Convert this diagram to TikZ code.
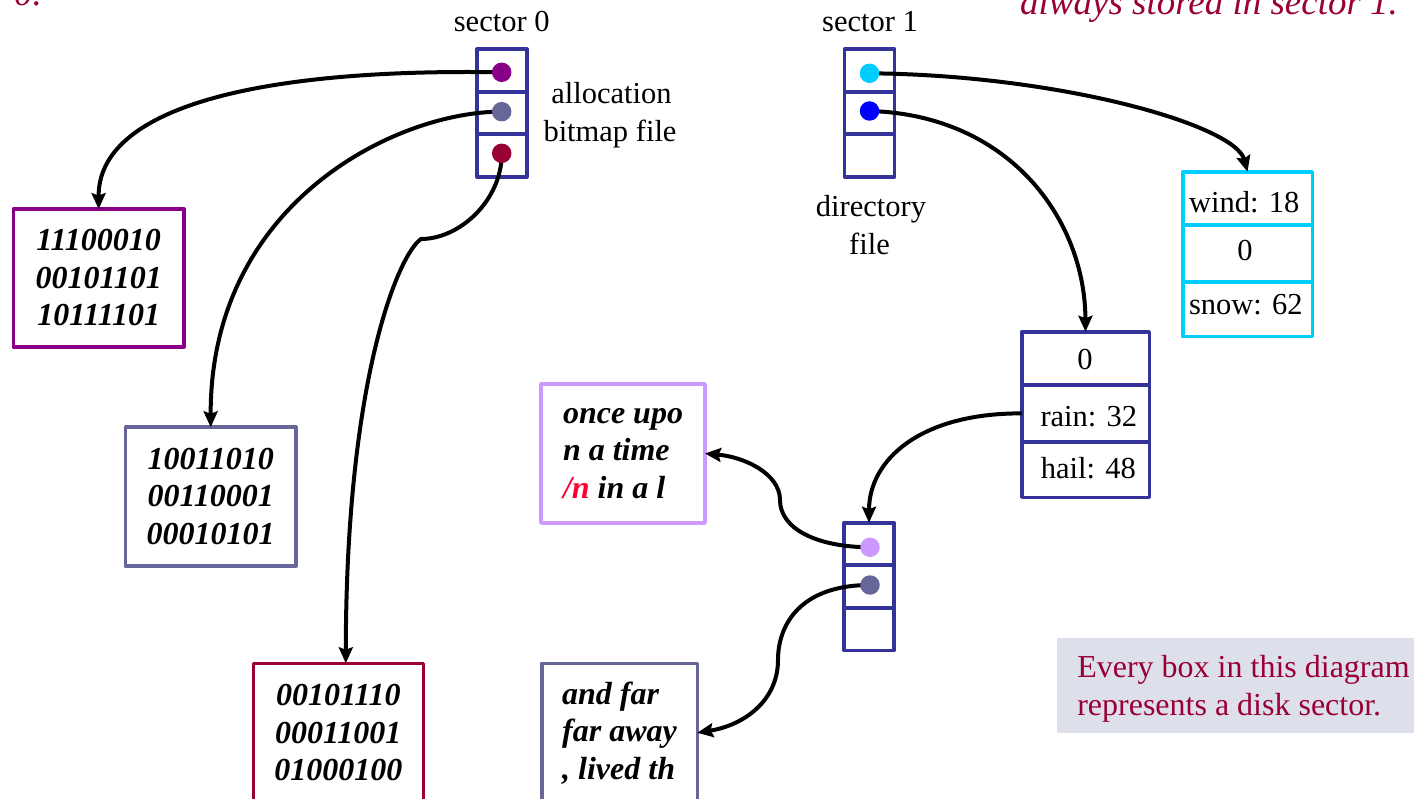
\documentclass[tikz,border=0pt]{standalone}
\usepackage{fontspec}
\setmainfont{Liberation Serif}
\usetikzlibrary{arrows.meta}

\definecolor{stackblue}{HTML}{333399}
\definecolor{plum}{HTML}{880088}
\definecolor{slate}{HTML}{666699}
\definecolor{crimson}{HTML}{990033}
\definecolor{lilac}{HTML}{CC99FF}
\definecolor{windcyan}{HTML}{00CCFF}
\definecolor{dotblue}{HTML}{0000FF}
\definecolor{nred}{HTML}{FF0033}
\definecolor{notebg}{HTML}{DDE0EA}

\begin{document}
\begin{tikzpicture}[x=1pt,y=-1pt,
  every node/.style={inner sep=0pt, outer sep=0pt},
  lbl/.style={font=\fontsize{30.5}{37}\selectfont, anchor=base},
  cellbox/.style={draw=#1, line width=3.6pt, line join=round},
  stackcell/.style={cellbox=stackblue, minimum width=50pt, minimum height=42.5pt},
  ptr/.style={circle, minimum size=19.5pt, fill=#1},
  datbox/.style={draw=#1, line width=3.6pt, line join=round, fill=white,
    minimum width=171pt, minimum height=139pt, align=center,
    font=\fontsize{32}{37.5}\selectfont\bfseries\itshape},
  textbox/.style={datbox=#1, align=left},
  notetext/.style={font=\fontsize{32}{38}\selectfont, text=crimson, anchor=base west},
  caption/.style={font=\fontsize{37}{44}\selectfont\itshape, text=crimson},
  link/.style={line width=4pt, -{Stealth[length=16pt,width=14pt,inset=2.5pt]}}
]
\useasboundingbox (0,0) rectangle (1414,799);

% headings cut by the page edge
\node[caption, anchor=base west] (cap0) at (14,6) {0.};
\node[caption, anchor=base east] (cap1) at (1398,15) {always stored in sector 1.};

% sector 0: allocation bitmap file
\node[stackcell] (s0a) at (501.7,70.5) {};
\node[stackcell] (s0b) at (501.7,113) {};
\node[stackcell] (s0c) at (501.7,155.5) {};
\node[lbl] (s0lbl) at (501.7,31.7) {sector 0};
\node[lbl] (alloc1) at (611.5,103.3) {allocation};
\node[lbl] (alloc2) at (610,142) {bitmap file};

% sector 1: directory file
\node[stackcell] (s1a) at (869.5,70.5) {};
\node[stackcell] (s1b) at (869.5,113) {};
\node[stackcell] (s1c) at (869.5,155.5) {};
\node[lbl] (s1lbl) at (870,31.7) {sector 1};
\node[lbl] (dir1) at (871,216.7) {directory};
\node[lbl] (dir2) at (869.5,255) {file};

% index sector of the text file
\node[stackcell] (t1) at (869,544) {};
\node[stackcell] (t2) at (869,586.7) {};
\node[stackcell] (t3) at (869,629.3) {};

% directory sector (cyan)
\node[cellbox=windcyan, minimum width=129.6pt, minimum height=53.3pt] (w1) at (1247.5,198.4) {};
\node[cellbox=windcyan, minimum width=129.6pt, minimum height=56.7pt] (w2) at (1247.5,253.4) {};
\node[cellbox=windcyan, minimum width=129.6pt, minimum height=55pt] (w3) at (1247.5,309.2) {};
\node[lbl] (wt1) at (1244.2,213) {wind: 18};
\node[lbl] (wt2) at (1245,261) {0};
\node[lbl] (wt3) at (1245.8,315) {snow: 62};

% directory sector (blue)
\node[cellbox=stackblue, minimum width=127.6pt, minimum height=53.3pt] (h1) at (1085.5,358.4) {};
\node[cellbox=stackblue, minimum width=127.6pt, minimum height=56.7pt] (h2) at (1085.5,413.4) {};
\node[cellbox=stackblue, minimum width=127.6pt, minimum height=55.6pt] (h3) at (1085.5,469.5) {};
\node[lbl] (ht1) at (1085,369.3) {0};
\node[lbl] (ht2) at (1088.8,426.7) {rain: 32};
\node[lbl] (ht3) at (1088.3,478.3) {hail: 48};

% bitmap data sectors
\node[datbox=plum, minimum width=170.7pt, minimum height=137.7pt] (b1) at (98.7,278) {11100010\\00101101\\10111101};
\node[datbox=slate, minimum width=170.7pt, minimum height=138.4pt] (b2) at (210.7,496.5) {10011010\\00110001\\00010101};
\node[datbox=crimson, minimum width=170pt] (b3) at (338.3,732.8) {00101110\\00011001\\01000100};

% text file data sectors
\node[textbox=lilac, minimum width=164pt] (once) at (623,453.5) {once upo\\n a time\\\textcolor{nred}{/n} in a l};
\node[textbox=slate, minimum width=155.6pt] (andfar) at (619.5,732.8) {and far\\far away\\, lived th};

% note
\node[fill=notebg, minimum width=370pt, minimum height=95pt, anchor=north west] (note) at (1057.3,638.3) {};
\node[notetext] (note1) at (1077.3,677.3) {Every box in this diagram};
\node[notetext] (note2) at (1077.3,715) {represents a disk sector.};

% pointer origins
\coordinate (p0a) at (501.7,72.3);
\coordinate (p0b) at (501.7,111.7);
\coordinate (p0c) at (501.7,153.3);
\coordinate (p1a) at (869.5,73.3);
\coordinate (p1b) at (869.5,111);
\coordinate (p2a) at (870,547.3);
\coordinate (p2b) at (870,585);
\coordinate (k3) at (421,239);
\coordinate (m7) at (780,500);
\coordinate (m8) at (778,660);

% pointers
\draw[link] (p0a) .. controls (250,68) and (98,110) .. (b1.north);
\draw[link] (p0b) .. controls (400,111) and (210,200) .. (b2.north);
\draw[link] (p0c) .. controls (502,200) and (460,239) .. (k3)
  .. controls (398,255) and (346,380) .. ([xshift=7.5pt]b3.north);
\draw[link] (p1a) .. controls (1060,75) and (1235,125) .. (w1.north);
\draw[link] (p1b) .. controls (1010,115) and (1085,220) .. (h1.north);
\draw[link] (h2.west) .. controls (920,413) and (869,460) .. (t1.north);
\draw[link] (p2a) .. controls (815,547) and (780,528) .. (m7)
  .. controls (780,474) and (745,457) .. (once.east);
\draw[link] (p2b) .. controls (800,585) and (778,625) .. (m8)
  .. controls (778,700) and (745,725) .. (andfar.east);

% pointer dots
\node[ptr=plum] (d0a) at (p0a) {};
\node[ptr=slate] (d0b) at (p0b) {};
\node[ptr=crimson] (d0c) at (p0c) {};
\node[ptr=windcyan] (d1a) at (p1a) {};
\node[ptr=dotblue] (d1b) at (p1b) {};
\node[ptr=lilac] (d2a) at (p2a) {};
\node[ptr=slate] (d2b) at (p2b) {};
\end{tikzpicture}
\end{document}
